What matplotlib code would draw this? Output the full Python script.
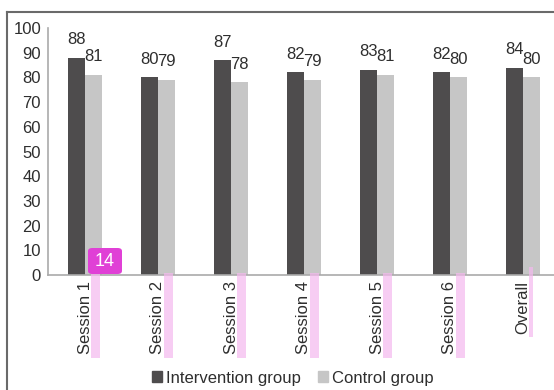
import matplotlib
matplotlib.use("Agg")
import matplotlib.pyplot as plt
import numpy as np
from matplotlib.patches import FancyBboxPatch, Rectangle
from matplotlib.lines import Line2D

plt.rcParams['font.family'] = ['Liberation Sans', 'DejaVu Sans']

categories = ["Session 1", "Session 2", "Session 3", "Session 4", "Session 5", "Session 6", "Overall"]
intervention = [88, 80, 87, 82, 83, 82, 84]
control = [81, 79, 78, 79, 81, 80, 80]
series_names = ["Intervention group", "Control group"]

W, H = 554, 390
fig = plt.figure(figsize=(W / 100, H / 100), dpi=100)
ax = fig.add_axes([48 / W, 1 - 275 / H, (W - 48) / W, (275 - 28) / H])

dark = "#4e4c4d"
light = "#c6c6c6"
txt = "#2e2e2e"
fs = 12
x = np.arange(len(categories))
bw = 0.233
b1 = ax.bar(x - bw / 2, intervention, bw, color=dark, label=series_names[0])
b2 = ax.bar(x + bw / 2, control, bw, color=light, label=series_names[1])

for rects, vals in ((b1, intervention), (b2, control)):
    for r, v in zip(rects, vals):
        ax.annotate(str(v), (r.get_x() + r.get_width() / 2, v), xytext=(0, 13),
                    textcoords="offset points", ha="center", va="center",
                    fontsize=fs, color=txt)

ax.set_ylim(0, 100)
ax.set_yticks(range(0, 101, 10))
ax.set_xlim(-(85 - 48) / 73, (W - 85) / 73)
ax.set_xticks(x)
ax.set_xticklabels(categories, rotation=90, fontsize=fs, color=txt)
ax.tick_params(axis="y", labelsize=fs, colors=txt, length=0, pad=5)
ax.tick_params(axis="x", length=0, pad=4)
for s in ("top", "right"):
    ax.spines[s].set_visible(False)
for s in ("left", "bottom"):
    ax.spines[s].set_color("#aaaaaa")
    ax.spines[s].set_linewidth(1.2)

handles = [Rectangle((0, 0), 1, 1, color=dark), Rectangle((0, 0), 1, 1, color=light)]
fig.legend(handles, series_names, loc="center", bbox_to_anchor=(293 / W, 1 - 378 / H),
           ncol=2, frameon=False, fontsize=fs, handlelength=0.6, handleheight=0.6,
           handletextpad=0.25, columnspacing=1.0, labelcolor=txt)

# figure frame (top and left)
fig.add_artist(Line2D([7 / W, 1], [1 - 12 / H, 1 - 12 / H], transform=fig.transFigure,
                      color="#6a6a6a", lw=1.5))
fig.add_artist(Line2D([7 / W, 7 / W], [0, 1 - 12 / H], transform=fig.transFigure,
                      color="#6a6a6a", lw=1.5))

# pink highlight overlays
pink = "#f5b8ee"
for i in range(6):
    cx = 85 + 73 * i
    fig.add_artist(Rectangle(((cx + 6) / W, 1 - 358 / H), 9 / W, 85 / H,
                             transform=fig.transFigure, color=pink, alpha=0.7, lw=0))
fig.add_artist(Rectangle((529 / W, 1 - 337 / H), 4 / W, 70 / H,
                         transform=fig.transFigure, color=pink, alpha=0.7, lw=0))
badge = FancyBboxPatch((88 / W, 1 - 274 / H), 34 / W, 26 / H,
                       boxstyle="round,pad=0,rounding_size=0.008",
                       transform=fig.transFigure, color="#e040d6", lw=0)
fig.add_artist(badge)
fig.text(105 / W, 1 - 261 / H, "14", color="white", fontsize=13, ha="center", va="center")

fig.savefig("out.png", dpi=100)
